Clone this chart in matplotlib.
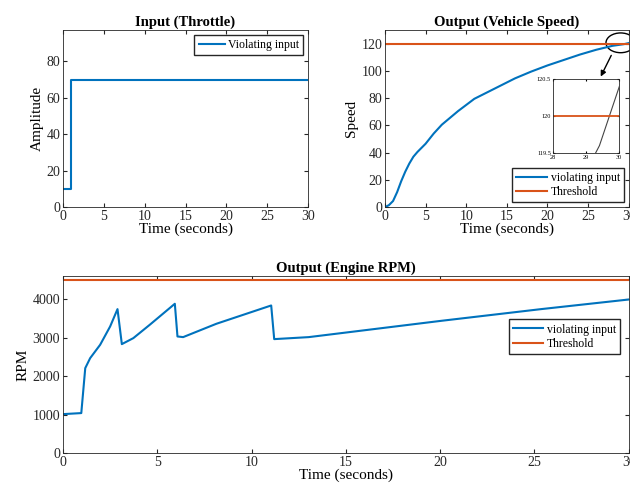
"""Throttle input, vehicle speed and engine RPM for a violating input."""

import matplotlib

matplotlib.use("Agg")
import matplotlib.pyplot as plt
from matplotlib.patches import Ellipse

# throttle input
throttle_t = [0, 1, 1, 30]
throttle_val = [10, 10, 69.5, 69.5]

# vehicle speed
speed_t = [0, 0.5, 1, 1.5, 2, 2.5, 3, 3.5, 4, 5, 6, 7, 8, 9, 10, 11, 12, 14,
           16, 18, 20, 22, 24, 26, 28, 29.4, 30]
speed_val = [0, 1.5, 4.5, 11, 19, 26, 32, 37, 40.5, 46.5, 54, 60.5, 65.5, 70.5,
             75, 79.5, 82.5, 88.5, 94.5, 99.5, 104, 108, 112, 115.5, 118.4,
             119.6, 120.4]
speed_limit = 120

# engine rpm
rpm_t = [0, 0.97, 1.18, 1.44, 1.97, 2.5, 2.89, 3.12, 3.73, 4.6, 5.93, 6.07,
         6.37, 8.13, 11.04, 11.2, 13.03, 20.07, 25.35, 30]
rpm_val = [1013, 1040, 2208, 2467, 2814, 3290, 3740, 2831, 2987, 3333, 3879,
           3030, 3013, 3359, 3835, 2961, 3013, 3437, 3740, 3990]
rpm_limit = 4500

BLUE = "#0072BD"
ORANGE = "#D95319"

plt.rcParams["font.family"] = ["Liberation Serif", "DejaVu Serif"]
plt.rcParams["font.size"] = 10
plt.rcParams["axes.linewidth"] = 0.6
plt.rcParams["xtick.direction"] = "in"
plt.rcParams["ytick.direction"] = "in"
plt.rcParams["xtick.top"] = True
plt.rcParams["ytick.right"] = True
plt.rcParams["xtick.major.size"] = 3
plt.rcParams["ytick.major.size"] = 3
plt.rcParams["xtick.major.pad"] = 2
plt.rcParams["ytick.major.pad"] = 2

LEG = dict(fancybox=False, edgecolor="#262626", handletextpad=0.3,
           fontsize=8.5, borderpad=0.35, framealpha=1)


def style(ax):
    for s in ax.spines.values():
        s.set_color("#262626")
    ax.tick_params(colors="#262626", labelsize=10)


fig = plt.figure(figsize=(6.3, 4.92), dpi=100)

# input throttle
ax1 = fig.add_axes([0.1, 0.579, 0.389, 0.36])
ax1.plot(throttle_t, throttle_val, color=BLUE, lw=1.5, label="Violating input")
ax1.set_xlim(0, 30)
ax1.set_ylim(0, 97)
ax1.set_xticks(range(0, 31, 5))
ax1.set_yticks(range(0, 81, 20))
ax1.set_xlabel("Time (seconds)", fontsize=11, labelpad=0)
ax1.set_ylabel("Amplitude", fontsize=11, labelpad=2)
ax1.set_title("Input (Throttle)", fontsize=10.5, fontweight="bold", pad=3)
ax1.legend(loc="upper right", borderaxespad=0.4, handlelength=2.2, **LEG)
style(ax1)

# vehicle speed
ax2 = fig.add_axes([0.611, 0.579, 0.387, 0.36])
ax2.plot(speed_t, speed_val, color=BLUE, lw=1.5, label="violating input")
ax2.axhline(speed_limit, color=ORANGE, lw=1.5, label="Threshold")
ax2.set_xlim(0, 30)
ax2.set_ylim(0, 130)
ax2.set_xticks(range(0, 31, 5))
ax2.set_yticks(range(0, 121, 20))
ax2.set_xlabel("Time (seconds)", fontsize=11, labelpad=0)
ax2.set_ylabel("Speed", fontsize=11, labelpad=2)
ax2.set_title("Output (Vehicle Speed)", fontsize=10.5, fontweight="bold", pad=3)
ax2.legend(loc="lower right", borderaxespad=0.4, handlelength=2.6,
           labelspacing=0.2, **LEG)
style(ax2)
ax2.add_patch(Ellipse((29.0, 120.6), 3.6, 14.5, fill=False, ec="black",
                      lw=1.0, clip_on=False))
ax2.annotate("", xy=(26.4, 94), xytext=(28.0, 113.2),
             arrowprops=dict(arrowstyle="-|>", color="black", lw=1.0,
                             mutation_scale=8))

# zoomed inset
axi = fig.add_axes([0.878, 0.689, 0.105, 0.150])
axi.plot(speed_t, speed_val, color="#444444", lw=0.8)
axi.axhline(speed_limit, color=ORANGE, lw=1.3)
axi.set_xlim(28, 30)
axi.set_ylim(119.5, 120.5)
axi.set_xticks([28, 29, 30])
axi.set_yticks([119.5, 120, 120.5])
axi.set_yticklabels(["119.5", "120", "120.5"])
axi.tick_params(labelsize=4.5, length=1.5, pad=1.5)
for s in axi.spines.values():
    s.set_color("#262626")

# engine rpm
ax3 = fig.add_axes([0.1, 0.079, 0.898, 0.36])
ax3.plot(rpm_t, rpm_val, color=BLUE, lw=1.5, label="violating input")
ax3.axhline(rpm_limit, color=ORANGE, lw=1.5, label="Threshold")
ax3.set_xlim(0, 30)
ax3.set_ylim(0, 4600)
ax3.set_xticks(range(0, 31, 5))
ax3.set_yticks(range(0, 4001, 1000))
ax3.set_xlabel("Time (seconds)", fontsize=11, labelpad=0)
ax3.set_ylabel("RPM", fontsize=11, labelpad=2)
ax3.set_title("Output (Engine RPM)", fontsize=10.5, fontweight="bold", pad=3)
ax3.legend(loc="upper right", bbox_to_anchor=(0.985, 0.755),
           borderaxespad=0, handlelength=2.6, labelspacing=0.2, **LEG)
style(ax3)

fig.savefig("out.png", dpi=100)
plt.close(fig)
